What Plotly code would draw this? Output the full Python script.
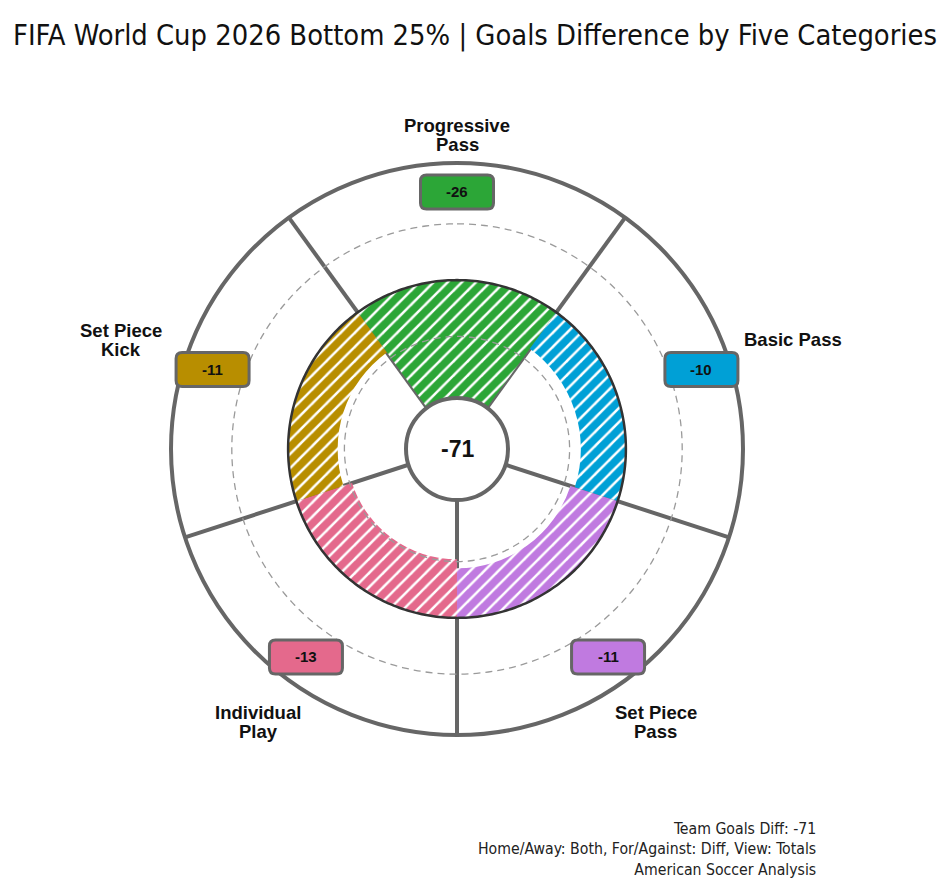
import numpy as np
import plotly.graph_objects as go

# data
categories = ["Progressive<br>Pass", "Basic Pass", "Set Piece<br>Pass",
              "Individual<br>Play", "Set Piece<br>Kick"]
goals_diff = [-26, -10, -11, -13, -11]
team_total = -71
bar_colors = ["#2ca637", "#00a0d6", "#c07ae0", "#e4698c", "#b88e00"]
grid_levels = [-12.5, 12.5]
footer_lines = ["Team Goals Diff: -71",
                "Home/Away: Both, For/Against: Diff, View: Totals",
                "American Soccer Analysis"]

# the page body adds an 8px margin, so the figure is 8px smaller than the window
W, H = 942, 879
SIDE = 572            # polar plot area is a square of this many px
LABEL_FONT = "Arial, Liberation Sans, sans-serif"
NARROW_FONT = "Liberation Sans Narrow, DejaVu Sans Condensed, sans-serif"

n = len(categories)
sector = 360 / n
theta = [i * sector for i in range(n)]
spokes = [t + sector / 2 for t in theta]
ring = np.linspace(0, 360, 361)

fig = go.Figure()

# one trace per category so each hatch keeps its own white stripes
for t, v, c in zip(theta, goals_diff, bar_colors):
    fig.add_trace(go.Barpolar(
        r=[-v], base=[v], theta=[t], width=[sector],
        marker=dict(color=c, line_width=0,
                    pattern=dict(shape="/", fgcolor="#ffffff", bgcolor=c,
                                 size=10, solidity=0.25, fillmode="replace")),
        hoverinfo="skip", showlegend=False))

# dashed reference rings
for lvl in grid_levels:
    fig.add_trace(go.Scatterpolar(
        r=[lvl] * len(ring), theta=ring, mode="lines",
        line=dict(color="#9a9a9a", width=1.3, dash="7px,5px"),
        hoverinfo="skip", showlegend=False))

# zero baseline
fig.add_trace(go.Scatterpolar(
    r=[0] * len(ring), theta=ring, mode="lines",
    line=dict(color="#333333", width=2.5),
    hoverinfo="skip", showlegend=False))


def to_paper(rho_px, compass_deg):
    a = np.deg2rad(90 - compass_deg)
    return 0.5 + rho_px * np.cos(a) / SIDE, 0.5 + rho_px * np.sin(a) / SIDE


def rounded_box(cx, cy, hw, hh, rad):
    x0, x1, y0, y1 = cx - hw, cx + hw, cy - hh, cy + hh
    return (f"M{x0+rad},{y0} L{x1-rad},{y0} Q{x1},{y0} {x1},{y0+rad} "
            f"L{x1},{y1-rad} Q{x1},{y1} {x1-rad},{y1} L{x0+rad},{y1} "
            f"Q{x0},{y1} {x0},{y1-rad} L{x0},{y0+rad} Q{x0},{y0} {x0+rad},{y0} Z")


shapes = []
annotations = []

# value boxes
for t, v, c in zip(theta, goals_diff, bar_colors):
    bx, by = to_paper(257, t)
    shapes.append(dict(type="path", xref="paper", yref="paper", layer="above",
                       path=rounded_box(bx, by, 36.5 / SIDE, 17 / SIDE, 6 / SIDE),
                       fillcolor=c, line=dict(color="#666666", width=3)))
    annotations.append(dict(x=bx, y=by, xref="paper", yref="paper", text=f"<b>{v}</b>",
                            showarrow=False, font=dict(family=LABEL_FONT, size=15, color="#111"),
                            xanchor="center", yanchor="middle"))

# category labels
label_radius = [314, 353, 338, 338, 353]
for t, name, rho in zip(theta, categories, label_radius):
    lx, ly = to_paper(rho, t)
    lines = name.split("<br>")
    for j, line in enumerate(lines):
        annotations.append(dict(x=lx, y=ly, xref="paper", yref="paper", text=f"<b>{line}</b>",
                                showarrow=False, yshift=((len(lines) - 1) / 2 - j) * 19,
                                font=dict(family=LABEL_FONT, size=18.5, color="#111"),
                                xanchor="center", yanchor="middle"))

# centre disc with the total
shapes.append(dict(type="circle", xref="paper", yref="paper", layer="above",
                   x0=0.5 - 51 / SIDE, x1=0.5 + 51 / SIDE,
                   y0=0.5 - 51 / SIDE, y1=0.5 + 51 / SIDE,
                   fillcolor="white", line=dict(color="#666666", width=4)))
annotations.append(dict(x=0.5, y=0.5, xref="paper", yref="paper", text=f"<b>{team_total}</b>",
                        showarrow=False, font=dict(family=LABEL_FONT, size=23, color="#111"),
                        xanchor="center", yanchor="middle"))

# footer
annotations.append(dict(x=(810 - 163) / SIDE, y=-(809 - 727) / SIDE, xref="paper", yref="paper",
                        text="<br>".join(footer_lines), showarrow=False, align="right",
                        xanchor="right", yanchor="top",
                        font=dict(family=NARROW_FONT, size=15.7, color="#222")))

fig.update_layout(
    width=W, height=H,
    margin=dict(l=163, r=207, t=155, b=152),
    paper_bgcolor="white",
    title=dict(text="FIFA World Cup 2026 Bottom 25% | Goals Difference by Five Categories",
               x=467 / W, xref="container", xanchor="center",
               y=1 - 27 / H, yanchor="middle",
               font=dict(family=NARROW_FONT, size=28.8, color="#111")),
    polar=dict(
        domain=dict(x=[0, 1], y=[0, 1]),
        bgcolor="white",
        barmode="overlay",
        radialaxis=dict(range=[-37.5, 26], showgrid=False, showline=False,
                        showticklabels=False, ticks=""),
        angularaxis=dict(rotation=90, direction="clockwise", tickvals=spokes,
                         showticklabels=False, ticks="",
                         gridcolor="#666666", gridwidth=4,
                         showline=True, linecolor="#666666", linewidth=4),
    ),
    shapes=shapes,
    annotations=annotations,
    showlegend=False,
)

fig.write_html("out.html")
